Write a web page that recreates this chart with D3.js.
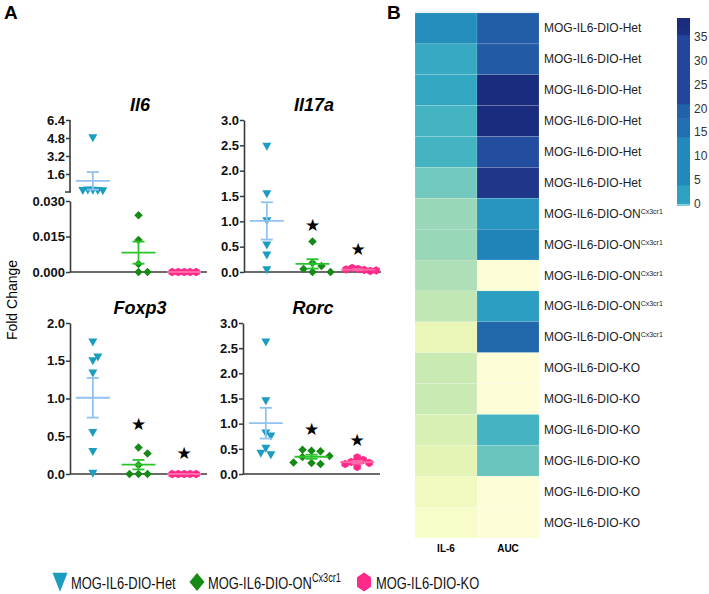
<!DOCTYPE html>
<html>
<head>
<meta charset="utf-8">
<script src="https://cdn.jsdelivr.net/npm/d3@7"></script>
<style>
  body { margin: 0; background: #fff; }
  text { font-family: Arial, "Liberation Sans", sans-serif; }
</style>
</head>
<body>
<script>
// groups
var groups = ["MOG-IL6-DIO-Het", "MOG-IL6-DIO-ON", "MOG-IL6-DIO-KO"];

// fold change values per gene and group
var il6Het = [4.9, 0.22, 0.2, 0.25, 0.18, 0.2];
var il6On = [0.024, 0.0135, 0.0034, 0, 0];
var il6Ko = [0, 0, 0, 0, 0];
var il17aHet = [2.5, 1.56, 1.03, 0.55, 0.35, 0.06];
var il17aOn = [0.6, 0.18, 0.12, 0.06, 0, 0];
var il17aKo = [0.06, 0.04, 0.08, 0.02, 0.05, 0.03];
var foxp3Het = [1.76, 1.51, 1.56, 1.35, 0.56, 0.31, 0.02];
var foxp3On = [0.35, 0.27, 0.12, 0, 0, 0];
var foxp3Ko = [0, 0, 0, 0, 0];
var rorcHet = [2.64, 1.47, 0.83, 0.77, 0.53, 0.4, 0.43];
var rorcOn = [0.46, 0.45, 0.48, 0.34, 0.36, 0.22, 0.2, 0.23];
var rorcKo = [0.33, 0.28, 0.24, 0.22, 0.2, 0.14];

// star heights (significance markers), null = none
var il6Stars = [null, null, null];
var il17aStars = [null, 0.93, 0.45];
var foxp3Stars = [null, 0.66, 0.28];
var rorcStars = [null, 0.9, 0.67];

// tick labels
var il6TicksUp = [1.6, 3.2, 4.8, 6.4];
var il6TicksLow = [0, 0.015, 0.03];
var ticks3 = [0, 0.5, 1.0, 1.5, 2.0, 2.5, 3.0];
var ticks2 = [0, 0.5, 1.0, 1.5, 2.0];

// heatmap
var heatGroup = [0, 0, 0, 0, 0, 0, 1, 1, 1, 1, 1, 2, 2, 2, 2, 2, 2];
var il6Heat = [0.63, 0.54, 0.55, 0.5, 0.5, 0.4, 0.33, 0.33, 0.29, 0.25, 0.13, 0.23, 0.23, 0.19, 0.15, 0.09, 0.05];
var aucHeat = [21, 22, 38, 38, 26, 34, 6, 11, null, 3, 18.5, null, null, -4.6, -12, null, null];
var heatColumns = ["IL-6", "AUC"];
var colorbarTicks = [0, 5, 10, 15, 20, 25, 30, 35];
var colorbarBreaks = [0, 0.5, 4, 14, 18, 21, 35.5, 37, 39];

var W = 709, H = 594;
var svg = d3.select("body").append("svg")
	.attr("width", W).attr("height", H)
	.style("display", "block");

var hetCol = "#1b9dc0", onCol = "#168a16", koCol = "#ff2a8a";
var markCols = [hetCol, onCol, koCol];
var meanCols = ["#92c2f2", "#2ac42a", "#ff6aa6"];
var axisCol = "#3a3a3a";

// marker paths
function triDown(w, h) {
	return "M" + (-w/2) + "," + (-h/3) + "L" + (w/2) + "," + (-h/3) + "L0," + (2*h/3) + "Z";
}
function diamond(w, h) {
	return "M0," + (-h/2) + "L" + (w/2) + ",0L0," + (h/2) + "L" + (-w/2) + ",0Z";
}
function hexagon(w, h) {
	return "M0," + (-h/2) + "L" + (w/2) + "," + (-h/4) + "L" + (w/2) + "," + (h/4) +
		"L0," + (h/2) + "L" + (-w/2) + "," + (h/4) + "L" + (-w/2) + "," + (-h/4) + "Z";
}
var markers = [triDown(9, 8), diamond(8.5, 8.5), hexagon(7.5, 8.5)];
var swarmStep = [5, 9, 6];

// panel letters
svg.append("text").attr("x", 4).attr("y", 19)
	.style("font-size", "19px").style("font-weight", "bold").text("A");
svg.append("text").attr("x", 387).attr("y", 19)
	.style("font-size", "19px").style("font-weight", "bold").text("B");

svg.append("text")
	.attr("transform", "translate(17,300)rotate(-90)")
	.attr("text-anchor", "middle")
	.style("font-size", "14px")
	.text("Fold Change");

///////////////////////////
// dot plots
///////////////////////////
var panels = [
	{ title: "Il6", x0: 70, top: 120, bottom: 272, data: [il6Het, il6On, il6Ko], stars: il6Stars, broken: true },
	{ title: "Il17a", x0: 244, top: 120, bottom: 272, data: [il17aHet, il17aOn, il17aKo], stars: il17aStars, yMax: 3, ticks: ticks3 },
	{ title: "Foxp3", x0: 70, top: 323, bottom: 474, data: [foxp3Het, foxp3On, foxp3Ko], stars: foxp3Stars, yMax: 2, ticks: ticks2 },
	{ title: "Rorc", x0: 243, top: 323, bottom: 474, data: [rorcHet, rorcOn, rorcKo], stars: rorcStars, yMax: 3, ticks: ticks3 }
];

panels.forEach(function(p) {
	var g = svg.append("g");
	var x = d3.scalePoint().domain(groups).range([p.x0, p.x0 + 137]).padding(0.5);
	var y;
	if (p.broken) {
		var yLow = d3.scaleLinear().domain([0, 0.03]).range([p.bottom, 201]);
		var yUp = d3.scaleLinear().domain([0, 6.4]).range([192, p.top]);
		y = function(v) { return v > 0.03 ? yUp(v) : yLow(v); };

		var axUp = g.append("g").attr("transform", "translate(" + p.x0 + ",0)")
			.call(d3.axisLeft(yUp).tickValues(il6TicksUp).tickSize(4).tickSizeOuter(0).tickFormat(d3.format(".1f")));
		axUp.select(".domain").attr("d", "M0," + p.top + "V192");
		g.append("g").attr("transform", "translate(" + p.x0 + ",0)")
			.call(d3.axisLeft(yLow).tickValues(il6TicksLow).tickSize(4).tickSizeOuter(0).tickFormat(d3.format(".3f")));
		// break mark
		g.append("line").attr("x1", p.x0 - 5).attr("x2", p.x0 + 1).attr("y1", 192).attr("y2", 192)
			.attr("stroke", axisCol).attr("stroke-width", 1.5);
	} else {
		var ys = d3.scaleLinear().domain([0, p.yMax]).range([p.bottom, p.top]);
		y = ys;
		g.append("g").attr("transform", "translate(" + p.x0 + ",0)")
			.call(d3.axisLeft(ys).tickValues(p.ticks).tickSize(4).tickSizeOuter(0).tickFormat(d3.format(".1f")));
	}
	g.selectAll(".domain").attr("stroke", axisCol).attr("stroke-width", 1.6);
	g.selectAll(".tick line").attr("stroke", axisCol).attr("stroke-width", 1.5);
	g.selectAll(".tick text").attr("fill", "#111").attr("x", -5)
		.style("font-size", "13px").style("font-weight", "bold").style("font-family", "Arial, 'Liberation Sans', sans-serif");

	// baseline
	g.append("line").attr("x1", p.x0).attr("x2", p.x0 + 137)
		.attr("y1", p.bottom).attr("y2", p.bottom)
		.attr("stroke", axisCol).attr("stroke-width", 1.6);

	// title
	g.append("text").attr("x", p.x0 + 70).attr("y", p.top - 9)
		.attr("text-anchor", "middle")
		.style("font-size", "18px").style("font-weight", "bold").style("font-style", "italic")
		.text(p.title);

	p.data.forEach(function(vals, gi) {
		var cx = x(groups[gi]);
		// simple beeswarm
		var placed = [];
		var step = swarmStep[gi], hgt = 7;
		vals.forEach(function(v) {
			var py = y(v);
			var cands = [0, step, -step, 2*step, -2*step, 3*step, -3*step];
			var off = 0;
			for (var k = 0; k < cands.length; k++) {
				var ok = placed.every(function(q) {
					return Math.abs(q.dx - cands[k]) >= step - 0.5 || Math.abs(q.y - py) >= hgt;
				});
				if (ok) { off = cands[k]; break; }
			}
			placed.push({ dx: off, y: py });
		});
		g.selectAll(null).data(placed).enter().append("path")
			.attr("d", markers[gi])
			.attr("transform", function(d) { return "translate(" + (cx + d.dx) + "," + d.y + ")"; })
			.attr("fill", markCols[gi]);

		// mean +- SEM
		var m = d3.mean(vals);
		var sem = d3.deviation(vals) / Math.sqrt(vals.length);
		var lo = Math.max(0, m - sem), hi = m + sem;
		var mg = g.append("g").attr("stroke", meanCols[gi]).attr("stroke-width", 1.8);
		mg.append("line").attr("x1", cx).attr("x2", cx).attr("y1", y(lo)).attr("y2", y(hi));
		mg.append("line").attr("x1", cx - 6).attr("x2", cx + 6).attr("y1", y(lo)).attr("y2", y(lo));
		mg.append("line").attr("x1", cx - 6).attr("x2", cx + 6).attr("y1", y(hi)).attr("y2", y(hi));
		mg.append("line").attr("x1", cx - 17).attr("x2", cx + 17).attr("y1", y(m)).attr("y2", y(m));

		if (p.stars[gi] != null) {
			g.append("text").attr("x", cx).attr("y", y(p.stars[gi]) + 6)
				.attr("text-anchor", "middle")
				.style("font-size", "17px").style("font-family", "'DejaVu Sans', sans-serif")
				.text("\u2605");
		}
	});
});

///////////////////////////
// heatmap
///////////////////////////
var hx = d3.scaleBand().domain(heatColumns).range([415, 539]);
var hy = d3.scaleBand().domain(d3.range(heatGroup.length)).range([13, 538]);
var il6Color = d3.scaleSequential(d3.interpolateYlGnBu).domain([0, 1]);
var aucT = d3.scaleLinear().domain([-12, 0, 39]).range([0.42, 0.55, 0.93]);
var aucColor = function(v) { return d3.interpolateYlGnBu(aucT(v)); };
var naColor = "#fdfdd7";

var hm = svg.append("g");
hm.append("line").attr("x1", 415).attr("x2", 539).attr("y1", 12).attr("y2", 12)
	.attr("stroke", "#dbe8f5").attr("stroke-width", 1);
hm.selectAll(".il6").data(il6Heat).enter().append("rect")
	.attr("x", hx("IL-6")).attr("width", hx.bandwidth())
	.attr("y", function(d, i) { return hy(i); }).attr("height", hy.bandwidth())
	.attr("fill", function(d) { return il6Color(d); })
	.attr("stroke", "rgba(255,255,255,0.25)").attr("stroke-width", 0.5);
hm.selectAll(".auc").data(aucHeat).enter().append("rect")
	.attr("x", hx("AUC")).attr("width", hx.bandwidth())
	.attr("y", function(d, i) { return hy(i); }).attr("height", hy.bandwidth())
	.attr("fill", function(d) { return d == null ? naColor : aucColor(d); })
	.attr("stroke", "rgba(255,255,255,0.25)").attr("stroke-width", 0.5);

heatColumns.forEach(function(c) {
	hm.append("text").attr("x", hx(c) + hx.bandwidth() / 2).attr("y", 552)
		.attr("text-anchor", "middle")
		.style("font-size", "10px").style("font-weight", "bold")
		.text(c);
});

var rowLab = hm.selectAll(".rowlab").data(heatGroup).enter().append("text")
	.attr("x", 544)
	.attr("y", function(d, i) { return hy(i) + hy.bandwidth() / 2 + 4; })
	.style("font-size", "12px").attr("fill", "#222");
rowLab.append("tspan").text(function(d) { return groups[d]; });
rowLab.filter(function(d) { return d === 1; }).append("tspan")
	.attr("dy", -4).style("font-size", "7px").text("Cx3cr1");

// colour bar
var cy = d3.scaleLinear().domain([0, 39]).range([204, 18]);
var bands = d3.pairs(colorbarBreaks);
svg.append("g").selectAll("rect").data(bands).enter().append("rect")
	.attr("x", 677).attr("width", 13)
	.attr("y", function(d) { return cy(d[1]); })
	.attr("height", function(d) { return cy(d[0]) - cy(d[1]) + 0.5; })
	.attr("fill", function(d) { return aucColor((d[0] + d[1]) / 2); });
svg.append("rect").attr("x", 677).attr("width", 13).attr("y", 204).attr("height", 2)
	.attr("fill", "#7fd3d8");
svg.append("g").selectAll("text").data(colorbarTicks).enter().append("text")
	.attr("x", 694).attr("y", function(d) { return cy(d) + 4; })
	.style("font-size", "12px").attr("fill", "#333")
	.text(function(d) { return d; });

///////////////////////////
// legend
///////////////////////////
var legend = [
	{ x: 60, tx: 71, shape: triDown(15, 19), label: "MOG-IL6-DIO-Het", sup: "" },
	{ x: 197, tx: 208, shape: diamond(15, 18), label: "MOG-IL6-DIO-ON", sup: "Cx3cr1" },
	{ x: 364, tx: 376, shape: hexagon(14, 19), label: "MOG-IL6-DIO-KO", sup: "" }
];
var lg = svg.append("g");
legend.forEach(function(d, i) {
	lg.append("path").attr("d", d.shape)
		.attr("transform", "translate(" + d.x + "," + (i === 0 ? 579 : 582) + ")")
		.attr("fill", markCols[i]);
	// the original legend font is condensed: squeeze Arial horizontally
	var t = lg.append("text")
		.attr("transform", "translate(" + d.tx + ",589)scale(0.76,1)")
		.style("font-size", "17px")
		.attr("fill", "#111");
	t.append("tspan").text(d.label);
	if (d.sup) t.append("tspan").attr("dy", -7).style("font-size", "12px").text(d.sup);
});
</script>
</body>
</html>
